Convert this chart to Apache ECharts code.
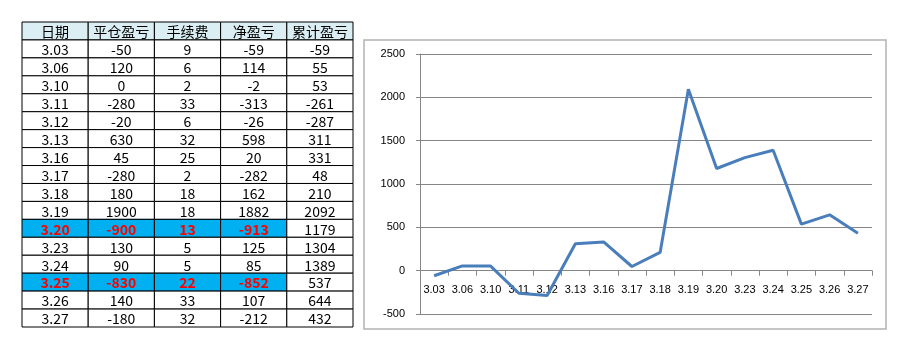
<!DOCTYPE html>
<html>
<head>
<meta charset="utf-8">
<script src="https://cdn.jsdelivr.net/npm/echarts@6/dist/echarts.min.js"></script>
<style>
html,body{margin:0;padding:0;background:#fff;}
#main{width:915px;height:360px;}
</style>
</head>
<body>
<div id="main"></div>
<script>
// ---- data ----
const headers = ['日期', '平仓盈亏', '手续费', '净盈亏', '累计盈亏'];
const dates = ['3.03','3.06','3.10','3.11','3.12','3.13','3.16','3.17','3.18','3.19','3.20','3.23','3.24','3.25','3.26','3.27'];
const closePnl = [-50, 120, 0, -280, -20, 630, 45, -280, 180, 1900, -900, 130, 90, -830, 140, -180];
const fees = [9, 6, 2, 33, 6, 32, 25, 2, 18, 18, 13, 5, 5, 22, 33, 32];
const netPnl = [-59, 114, -2, -313, -26, 598, 20, -282, 162, 1882, -913, 125, 85, -852, 107, -212];
const cumPnl = [-59, 55, 53, -261, -287, 311, 331, 48, 210, 2092, 1179, 1304, 1389, 537, 644, 432];
const highlightedDates = ['3.20', '3.25'];
const yTicks = { min: -500, max: 2500, interval: 500 };

// ---- build table cells ----
const rowLabels = ['header'].concat(dates);
const columns = [dates, closePnl, fees, netPnl, cumPnl];
const cells = [];
headers.forEach((h, c) => {
  cells.push({ col: c, row: 0, text: h, bg: '#DBEEF4', color: '#000', bold: false });
});
dates.forEach((d, r) => {
  const hl = highlightedDates.indexOf(d) >= 0;
  columns.forEach((col, c) => {
    const hlCell = hl && c < 4;
    cells.push({
      col: c, row: r + 1, text: String(col[r]),
      bg: hlCell ? '#00B0F0' : '#FFFFFF',
      color: hlCell ? '#FF0000' : '#000000',
      bold: hlCell
    });
  });
});

const chart = echarts.init(document.getElementById('main'), null, { renderer: 'canvas' });
const axisGray = '#868686';
const labelFont = 'Liberation Sans, Arial, sans-serif';

chart.setOption({
  animation: false,
  backgroundColor: '#fff',
  graphic: [{
    type: 'rect', z: -1,
    shape: { x: 364, y: 40, width: 522, height: 289 },
    style: { fill: '#fff', stroke: '#B3B3B3', lineWidth: 1.5 }
  }],
  grid: [
    { left: 22, top: 22, width: 331, height: 305, containLabel: false },
    { left: 420, top: 54, right: 43, bottom: 46, containLabel: false }
  ],
  xAxis: [
    { gridIndex: 0, type: 'category', data: headers, show: false },
    {
      gridIndex: 1, type: 'category', data: dates, boundaryGap: true,
      position: 'bottom', offset: 0,
      axisLine: { show: true, onZero: false, lineStyle: { color: axisGray, width: 1 } },
      axisTick: { show: true, interval: 0, length: 5, lineStyle: { color: axisGray } },
      axisLabel: { interval: 0, margin: 14, color: '#000', fontSize: 11, fontFamily: labelFont },
      splitLine: { show: false }
    }
  ],
  yAxis: [
    { gridIndex: 0, type: 'category', data: rowLabels, inverse: true, show: false },
    {
      gridIndex: 1, type: 'value', min: yTicks.min, max: yTicks.max, interval: yTicks.interval,
      axisLine: { show: true, lineStyle: { color: axisGray, width: 1 } },
      axisTick: { show: true, length: 4, lineStyle: { color: axisGray } },
      axisLabel: { margin: 15, color: '#000', fontSize: 11, fontFamily: labelFont, formatter: v => String(v) },
      splitLine: { show: true, lineStyle: { color: axisGray, width: 1 } }
    }
  ],
  series: [
    {
      type: 'custom',
      xAxisIndex: 0, yAxisIndex: 0,
      encode: { x: 0, y: 1 },
      data: cells.map(c => [c.col, c.row]),
      renderItem: function (params, api) {
        const c = cells[params.dataIndex];
        const p = api.coord([api.value(0), api.value(1)]);
        const s = api.size([1, 1]);
        return {
          type: 'group',
          children: [
            {
              type: 'rect',
              shape: { x: p[0] - s[0] / 2, y: p[1] - s[1] / 2, width: s[0], height: s[1] },
              style: { fill: c.bg, stroke: '#000', lineWidth: 1 }
            },
            {
              type: 'text',
              style: {
                text: c.text, x: p[0], y: p[1] + 1,
                align: 'center', verticalAlign: 'middle',
                fill: c.color, fontSize: 14,
                fontWeight: c.bold ? 'bold' : 'normal',
                fontFamily: '"Noto Sans CJK SC", "DejaVu Sans", sans-serif'
              }
            }
          ]
        };
      }
    },
    {
      type: 'line',
      xAxisIndex: 1, yAxisIndex: 1,
      data: cumPnl,
      symbol: 'none',
      lineStyle: { color: '#4A7EBB', width: 3 },
      itemStyle: { color: '#4A7EBB' }
    }
  ]
});

// Move the category axis (line, ticks and labels) up to the value-axis zero line.
const zeroY = chart.convertToPixel({ yAxisIndex: 1 }, 0);
const bottomY = chart.convertToPixel({ yAxisIndex: 1 }, yTicks.min);
chart.setOption({
  xAxis: [{}, { offset: -(bottomY - zeroY) }]
});
</script>
</body>
</html>
